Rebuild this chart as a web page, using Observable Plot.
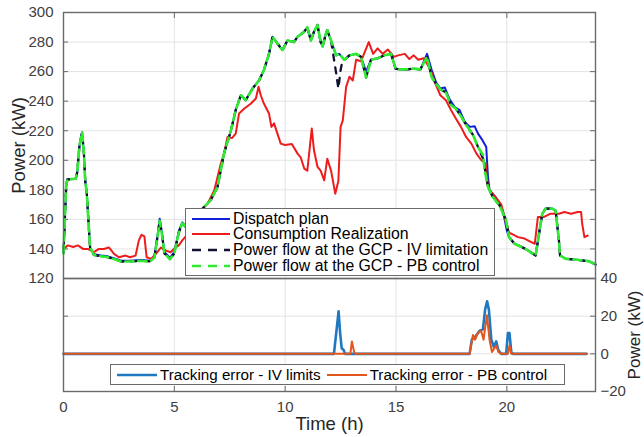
<!DOCTYPE html>
<html><head><meta charset="utf-8">
<script src="https://cdn.jsdelivr.net/npm/d3@7"></script>
<script src="https://cdn.jsdelivr.net/npm/@observablehq/plot@0.6"></script>
<style>
body{margin:0;background:#fff;font-family:"Liberation Sans",Arial,sans-serif;}
#wrap{position:relative;width:644px;height:437px;overflow:hidden;background:#fff;}
#wrap > svg{position:absolute;left:0;top:0;background:transparent;}
g[aria-label="y-axis label"] text, g[aria-label="x-axis label"] text{font-size:18.5px;fill:#262626;}
#wrap > svg:first-child g[aria-label="y-axis label"] text{font-size:17px;}
.leg{position:absolute;background:#fff;border:1.4px solid #6a6a6a;box-sizing:border-box;font-size:15.8px;color:#000;}
.row{display:flex;align-items:center;height:15.6px;white-space:nowrap;}
.row svg{position:static;margin:0 3px 0 6px;}
</style></head>
<body><div id="wrap"></div>
<script>
// ---- top panel: Dispatch plan (blue)
const dispatchT=[0,0.12,0.17,0.55,0.62,0.72,0.84,0.92,0.98,1.05,1.12,1.2,1.37,1.7,2.0,2.3,2.6,3.0,3.5,3.9,4.1,4.25,4.34,4.45,4.55,4.8,5.0,5.2,5.36,5.5,5.74,6.19,6.64,6.95,7.24,7.55,7.77,8.0,8.22,8.53,8.82,9.04,9.27,9.43,9.65,9.88,10.1,10.4,10.56,10.86,11.0,11.16,11.3,11.46,11.6,11.69,11.84,11.9,12.07,12.3,12.44,12.67,12.9,13.2,13.42,13.65,13.87,14.17,14.47,14.78,14.98,15.2,15.5,15.8,16.1,16.4,16.6,16.8,17.0,17.2,17.4,17.65,17.87,18.1,18.33,18.55,18.7,18.9,19.07,19.15,19.22,19.5,19.82,20.0,20.1,20.35,20.65,20.95,21.3,21.5,21.6,21.75,22.05,22.2,22.35,22.4,22.66,23.26,23.7,24.0];
const dispatchP=[137,182,187,187.5,192,210,219,205,186,178,160,141,136.5,135.5,135,133.5,132,132,132.5,132,135,150,160.5,150,138,134,138,152,158,155,161.6,166,173,182,204.5,220,234,244,240.7,248.6,254,261,272,283.6,279,274.6,281,280,283.6,287,290,281,287,291.5,280,277,286,288,281,271,272,268,271,272,270,260,268,269,271,272,262,261.5,261.5,262,261.5,272,261.5,253,248.6,249.3,241.8,236,234,226,222.6,223,218,213.6,209,188.7,179.6,175,166,152.5,148,143.5,141.5,139,135.6,154.8,163.8,167.3,167.3,166,145.8,135.6,133.3,132.5,131.7,129.5];
// ---- Consumption Realization (red)
const consT=[0,0.2,0.43,0.65,0.88,1.1,1.37,1.6,1.82,2.05,2.28,2.5,2.8,3.0,3.25,3.4,3.52,3.65,3.75,3.95,4.17,4.4,4.6,4.83,5.05,5.2,5.36,5.6,5.9,6.19,6.5,6.8,7.1,7.24,7.4,7.6,7.77,7.92,8.16,8.46,8.68,8.8,8.9,9.04,9.27,9.38,9.5,9.65,9.8,10.0,10.3,10.56,10.7,10.86,11.0,11.2,11.3,11.46,11.6,11.76,11.9,12.07,12.26,12.4,12.5,12.6,12.75,12.9,13.05,13.2,13.42,13.77,13.97,14.17,14.4,14.63,14.9,15.1,15.4,15.6,15.8,16.0,16.25,16.55,16.77,17.0,17.25,17.48,17.7,17.93,18.16,18.4,18.63,18.85,19.04,19.15,19.3,19.6,19.75,19.97,20.1,20.2,20.5,20.8,21.1,21.26,21.4,21.66,21.95,22.35,22.6,22.9,23.2,23.35,23.4,23.5,23.65];
const consP=[140,142.4,141.3,142.4,140,140,137.8,140,140,141,136.7,134.4,135.5,134.4,135.5,145.8,149.6,148.5,134.4,133.3,136.7,141,139,137.8,141,142.4,145.8,150,157,166,170.6,179.6,197.8,204.5,215.8,215,218,231.7,235,238.4,241.8,249.7,244,238.4,231.7,222.6,225,218,211.3,210.3,211,204.5,202,194.4,193,221.5,206.8,195.5,193,186.4,201,193,177.4,186,222.6,227,249.7,256.5,254,268,267,280,272,275.7,272,275,270,271,272,268.5,271,268,269,261.5,252,244,240.7,234,228.3,222.6,215.8,211.3,204.5,200,197.8,182,178.5,173,170,157,151,150.3,148,147,144.6,143.5,161.6,161.6,163.8,163.8,165,163.8,165,165,157,148,149];
// ---- Power flow at the GCP - PB control (green)
const pbT=[0,0.12,0.17,0.55,0.62,0.72,0.84,0.92,0.98,1.05,1.12,1.2,1.37,1.7,2.0,2.3,2.6,3.0,3.5,3.9,4.1,4.25,4.34,4.45,4.55,4.8,5.0,5.2,5.36,5.5,5.74,6.19,6.64,6.95,7.24,7.55,7.77,8.0,8.22,8.53,8.82,9.04,9.27,9.43,9.65,9.88,10.1,10.4,10.56,10.86,11.0,11.16,11.3,11.46,11.6,11.69,11.84,11.9,12.07,12.3,12.44,12.67,12.9,13.2,13.42,13.65,13.87,14.17,14.47,14.78,14.98,15.2,15.5,15.8,16.1,16.4,16.6,16.8,17.0,17.25,17.48,17.7,17.95,18.18,18.48,18.7,18.93,19.0,19.15,19.37,19.67,19.97,20.1,20.35,20.65,20.95,21.3,21.5,21.6,21.75,22.05,22.2,22.35,22.4,22.66,23.26,23.7,24.0];
const pbP=[137,182,187,187.5,192,210,219,205,186,178,160,141,136,135,134.5,133,131.5,131.5,132,131.5,134,149,159,149,137,133,137,151,157.5,155,161.6,166,173,182,204.5,220,234,244,240.7,248.6,254,261,272,283.6,279,274.6,281,280,283.6,287,290,281,287,291.5,280,277,286,288,281,271,272,268,271,272,270,256,268,269,271,272,262,261.5,261.5,262,261.5,270,256.5,252,248,246,237.3,235,229.4,223.5,217,209,203.4,193.2,182,175,169.5,159.3,148,143.5,141.5,139,135.6,154.8,163.8,167.3,167.3,166,145.8,135.6,133.3,132.5,131.7,129.5];
// ---- Power flow at the GCP - IV limitation (black)
const ivT=[0,0.12,0.17,0.55,0.62,0.72,0.84,0.92,0.98,1.05,1.12,1.2,1.37,1.7,2.0,2.3,2.6,3.0,3.5,3.9,4.1,4.25,4.34,4.45,4.55,4.8,5.0,5.2,5.36,5.5,5.74,6.19,6.64,6.95,7.24,7.55,7.77,8.0,8.22,8.53,8.82,9.04,9.27,9.43,9.65,9.88,10.1,10.4,10.56,10.86,11.0,11.16,11.3,11.46,11.6,11.69,11.84,11.9,12.07,12.3,12.4,12.5,12.56,12.67,12.9,13.2,13.42,13.65,13.87,14.17,14.47,14.78,14.98,15.2,15.5,15.8,16.1,16.4,16.6,16.8,17.0,17.25,17.48,17.7,17.95,18.18,18.48,18.7,18.93,19.0,19.15,19.37,19.67,19.97,20.1,20.35,20.65,20.95,21.3,21.5,21.6,21.75,22.05,22.2,22.35,22.4,22.66,23.26,23.7,24.0];
const ivP=[137,182,187,187.5,192,210,219,205,186,178,160,141,136,135,134.5,133,131.5,131.5,132,131.5,134,149,159,149,137,133,137,151,157.5,155,161.6,166,173,182,204.5,220,234,244,240.7,248.6,254,261,272,283.6,279,274.6,281,280,283.6,287,290,281,287,291.5,280,277,286,288,281,259,248.6,261,265.5,268,271,272,270,256,268,269,271,272,262,261.5,261.5,262,261.5,270,256.5,252,248,246,237.3,235,229.4,223.5,217,209,201,195,182,175,169.5,159.3,148,143.5,141.5,139,135.6,154.8,163.8,167.3,167.3,166,145.8,135.6,133.3,132.5,131.7,129.5];
// ---- bottom panel: tracking errors
const errIvT=[0,12.2,12.32,12.41,12.48,12.55,12.64,12.7,18.32,18.42,18.57,18.77,18.92,19.02,19.11,19.19,19.3,19.42,19.52,19.62,19.75,19.97,20.05,20.12,20.2,20.27,23.6];
const errIvE=[0,0,12.8,22.6,11,3,2,0,0,7.5,9,12.3,13,23.5,27.9,23.5,7.5,3.5,6.6,1.8,0,0,11,11,1,0,0];
const errPbT=[0,12.94,13.01,13.12,13.2,18.32,18.47,18.57,18.69,18.84,18.95,19.1,19.22,19.33,19.52,19.62,19.75,20.05,20.12,20.2,23.6];
const errPbE=[0,0,6.6,0.5,0,0,10,7.5,11,12.3,7.5,20.5,7.5,1,4.4,1,0,0,4.4,0,0];
// ---- ticks
const xTicks=[0,5,10,15,20];
const yTopTicks=[120,140,160,180,200,220,240,260,280,300];
const yBotTicks=[-20,0,20,40];

const W=644,H=437,ML=63,MR=49;
const wrap=document.getElementById("wrap");
const gridC="#e3e3e3", frameC="#6a6a6a";

const topPlot=Plot.plot({
  width:W,height:H,marginLeft:ML,marginRight:MR,marginTop:12,marginBottom:159,
  style:{fontFamily:"Liberation Sans, Arial, sans-serif",background:"transparent",color:"#404040"},
  x:{domain:[0,24],axis:null}, y:{domain:[120,300]},
  marks:[
    Plot.ruleX(xTicks.slice(1),{x:d=>d,stroke:gridC,strokeWidth:1}),
    Plot.ruleY(yTopTicks.slice(1,-1),{y:d=>d,stroke:gridC,strokeWidth:1}),
    Plot.tickX(xTicks,{x:d=>d,insetBottom:260,stroke:frameC}),
    Plot.tickY(yTopTicks,{y:d=>d,insetRight:527,stroke:frameC}),
    Plot.tickY(yTopTicks,{y:d=>d,insetLeft:527,stroke:frameC}),
    Plot.line(dispatchP,{x:dispatchT,y:dispatchP,stroke:"#1020d8",strokeWidth:2}),
    Plot.line(consP,{x:consT,y:consP,stroke:"#ee1c1c",strokeWidth:2}),
    Plot.line(ivP,{x:ivT,y:ivP,stroke:"#101030",strokeWidth:2.3,strokeDasharray:"6,7",strokeDashoffset:8}),
    Plot.line(pbP,{x:pbT,y:pbP,stroke:"#30ea30",strokeWidth:2.6,strokeDasharray:"8,5"}),
    Plot.frame({stroke:frameC,strokeWidth:1.4}),
    Plot.axisY(yTopTicks,{tickSize:0,tickPadding:10,fontSize:15,label:"Power (kW)",labelAnchor:"center",labelOffset:52,labelArrow:"none"}),
  ]
});
const botPlot=Plot.plot({
  width:W,height:H,marginLeft:ML,marginRight:MR,marginTop:278,marginBottom:46,
  style:{fontFamily:"Liberation Sans, Arial, sans-serif",background:"transparent",color:"#404040"},
  x:{domain:[0,24]}, y:{domain:[-20,40]},
  marks:[
    Plot.ruleX(xTicks.slice(1),{x:d=>d,stroke:gridC,strokeWidth:1}),
    Plot.ruleY([0,20],{y:d=>d,stroke:gridC,strokeWidth:1}),
    Plot.tickX(xTicks,{x:d=>d,insetTop:108,stroke:frameC}),
    Plot.tickY(yBotTicks,{y:d=>d,insetRight:527,stroke:frameC}),
    Plot.tickY(yBotTicks,{y:d=>d,insetLeft:527,stroke:frameC}),
    Plot.line(errIvE,{x:errIvT,y:errIvE,stroke:"#1f78c0",strokeWidth:2.6}),
    Plot.line(errPbE,{x:errPbT,y:errPbE,stroke:"#e2561d",strokeWidth:2}),
    Plot.frame({stroke:frameC,strokeWidth:1.4}),
    Plot.axisY(yBotTicks,{anchor:"right",tickSize:0,tickPadding:5,fontSize:15,label:"Power (kW)",labelAnchor:"center",labelOffset:44,labelArrow:"none"}),
    Plot.axisX(xTicks,{tickSize:0,tickPadding:10,fontSize:15,label:"Time (h)",labelAnchor:"center",labelOffset:38,labelArrow:"none"}),
  ]
});
wrap.appendChild(botPlot);
wrap.appendChild(topPlot);
function legend(items,style){
  const d=document.createElement("div");d.className="leg";Object.assign(d.style,style);
  for(const it of items){
    const r=document.createElement("div");r.className="row";
    r.innerHTML=`<svg width="${it.w}" height="6"><line x1="0" x2="${it.w}" y1="3" y2="3" stroke="${it.c}" stroke-width="${it.sw}" ${it.dash?`stroke-dasharray="${it.dash}"`:""}/></svg><span>${it.t}</span>`;
    d.appendChild(r);
  }
  wrap.appendChild(d);return d;
}
legend([
  {t:"Dispatch plan",c:"#1020d8",sw:2,w:38},
  {t:"Consumption Realization",c:"#ee1c1c",sw:2,w:38},
  {t:"Power flow at the GCP - IV limitation",c:"#101030",sw:2.3,w:38,dash:"9,7"},
  {t:"Power flow at the GCP - PB control",c:"#30ea30",sw:2.6,w:38,dash:"9,7"}
],{left:"185px",top:"208px",width:"310px",height:"68px",paddingTop:"2px"});
const b=legend([
  {t:"Tracking error - IV limits",c:"#1f78c0",sw:2.4,w:40},
  {t:"Tracking error - PB control",c:"#e2561d",sw:2.2,w:40}
],{left:"110px",top:"364px",width:"455px",height:"21px",display:"flex",alignItems:"center",fontSize:"15.2px"});
b.querySelectorAll(".row").forEach(r=>{r.style.height="19px";});
</script></body></html>
